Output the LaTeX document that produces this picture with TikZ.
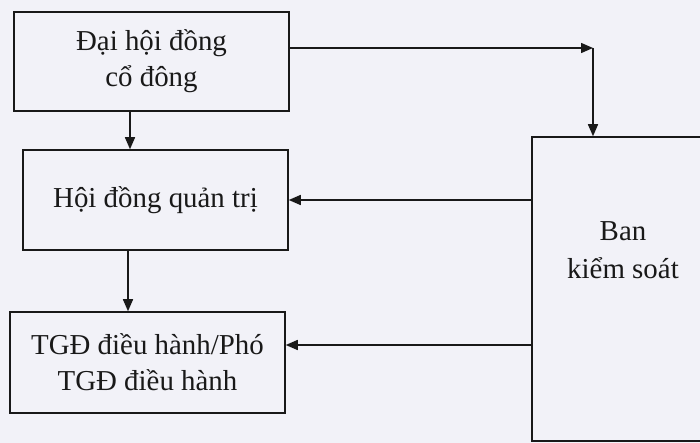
\documentclass[tikz,border=0pt]{standalone}
\usepackage{fontspec}
\setmainfont{Liberation Serif}
\usetikzlibrary{arrows.meta}
\definecolor{paper}{RGB}{242,242,248}
\definecolor{ink}{RGB}{25,25,25}
\tikzset{
  box/.style={draw=ink, line width=1.5bp, fill=paper, inner sep=0pt, align=center,
    font=\fontsize{29}{36}\selectfont, text=ink},
  arr/.style={draw=ink, line width=1.5bp, -{Triangle[length=12bp,width=10bp]}},
  lbl/.style={align=center, font=\fontsize{29}{38}\selectfont, text=ink}
}
\begin{document}
\begin{tikzpicture}[x=1bp,y=-1bp]
\useasboundingbox (0,0) rectangle (700,443);
\fill[paper] (0,0) rectangle (700,443);
\node[box, minimum width=275bp, minimum height=99bp] (b1) at (151.5,61.5) {Đại hội đồng\\cổ đông};
\node[box, minimum width=265bp, minimum height=100bp] (b2) at (155.5,200) {Hội đồng quản trị};
\node[box, minimum width=275bp, minimum height=101bp] (b3) at (147.5,362.5) {TGĐ điều hành/Phó\\TGĐ điều hành};
\node[box, minimum width=180bp, minimum height=304bp] (b4) at (622,289) {};
\node[lbl] (b4t) at (623,250) {Ban\\kiểm soát};
\coordinate (x1) at (130,0);
\coordinate (x2) at (128,0);
\coordinate (c) at (593,48);
\coordinate (y3) at (0,345);
\draw[arr] (b1.south -| x1) -- (b2.north -| x1);
\draw[arr] (b2.south -| x2) -- (b3.north -| x2);
\draw[arr] (c -| b1.east) -- (c);
\draw[arr] (c) -- (c |- b4.north);
\draw[arr] (b4.west |- b2.east) -- (b2.east);
\draw[arr] (b4.west |- y3) -- (b3.east |- y3);
\end{tikzpicture}
\end{document}
